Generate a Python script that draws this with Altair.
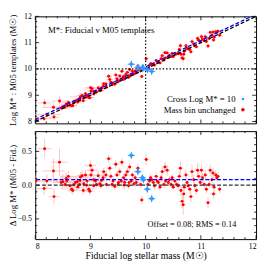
import altair as alt
import pandas as pd

# ---------------- data ----------------
fid_mass = [8.01, 8.17, 8.21, 8.16, 8.33, 8.44, 8.34, 8.47, 8.50, 8.54,
            8.57, 8.60, 8.63, 8.66, 8.68, 8.70, 8.73, 8.76, 8.80, 8.82,
            8.85, 8.88, 8.91, 8.94, 8.97, 9.00, 9.01, 9.03, 9.06, 9.09,
            8.99, 9.11, 9.14, 9.17, 9.20, 9.23, 9.24, 9.28, 9.29, 9.33,
            9.35, 9.37, 9.41, 9.44, 9.46, 9.48, 9.50, 9.53, 9.56, 9.57,
            9.60, 9.62, 9.64, 9.67, 9.69, 9.71, 9.74, 9.76, 9.79, 9.81,
            9.83, 9.86, 9.91, 9.93, 10.01, 10.04, 10.07, 10.09, 10.11, 10.14,
            10.16, 10.19, 10.21, 10.23, 10.26, 10.28, 10.30, 10.33, 10.35, 10.36,
            10.39, 10.41, 10.43, 10.46, 10.48, 10.50, 10.53, 10.56, 10.59, 10.61,
            10.63, 10.64, 10.66, 10.68, 10.69, 10.70, 10.73, 10.75, 10.77, 10.80,
            10.82, 10.84, 10.87, 10.89, 10.92, 10.94, 10.96, 10.99, 11.01, 11.03,
            11.06, 11.08, 11.10, 11.13, 11.15, 11.17, 11.20, 11.22, 11.24, 11.27,
            11.29, 11.31, 11.34, 11.23, 8.77, 8.87, 8.93, 9.06, 9.19, 9.39,
            9.51, 9.61, 9.70, 8.81, 8.56]
delta = [0.06, 0.54, 0.06, -0.05, 0.21, 0.34, -0.17, 0.04, 0.05, 0.01,
         0.06, 0.13, -0.01, -0.06, -0.08, 0.01, 0.04, 0.05, 0.01, 0.12,
         0.14, 0.02, 0.15, 0.06, -0.06, 0.29, 0.15, 0.22, 0.08, 0.06,
         -0.09, 0.01, 0.14, 0.02, 0.07, 0.11, 0.20, 0.15, 0.01, 0.39,
         0.25, 0.13, 0.06, -0.02, 0.31, 0.15, 0.01, 0.20, 0.06, 0.34,
         0.11, 0.04, 0.15, 0.20, -0.01, 0.27, 0.06, 0.15, 0.02, 0.11,
         0.04, 0.25, 0.01, -0.22, 0.38, 0.01, 0.06, 0.11, 0.08, 0.04,
         -0.01, 0.13, 0.06, 0.04, -0.03, 0.11, 0.20, 0.01, 0.27, 0.06,
         0.22, 0.04, 0.08, 0.01, 0.11, -0.03, 0.06, 0.01, -0.01, 0.13,
         0.25, -0.08, -0.24, -0.29, -0.13, -0.03, 0.15, 0.04, -0.01, -0.06,
         -0.17, 0.20, 0.08, -0.01, -0.08, 0.22, 0.13, 0.04, 0.22, 0.11,
         0.01, 0.15, -0.06, -0.26, 0.01, 0.22, 0.08, 0.18, -0.03, 0.15,
         0.11, 0.13, -0.06, -0.13, -0.03, -0.08, 0.00, -0.01, -0.01, 0.01,
         0.04, 0.00, 0.04, 0.07, 0.10]
err_fid = [0.10, 0.12, 0.25, 0.15, 0.20, 0.15, 0.10, 0.15, 0.12, 0.10,
           0.10, 0.15, 0.12, 0.10, 0.08, 0.10, 0.12, 0.10, 0.08, 0.20,
           0.10, 0.08, 0.12, 0.08, 0.08, 0.10, 0.08, 0.10, 0.08, 0.08,
           0.08, 0.06, 0.08, 0.06, 0.06, 0.08, 0.06, 0.06, 0.05, 0.06,
           0.06, 0.05, 0.06, 0.05, 0.06, 0.05, 0.05, 0.06, 0.05, 0.05,
           0.05, 0.05, 0.05, 0.05, 0.05, 0.05, 0.05, 0.05, 0.05, 0.05,
           0.05, 0.05, 0.04, 0.04, 0.05, 0.04, 0.04, 0.04, 0.04, 0.04,
           0.04, 0.05, 0.04, 0.04, 0.04, 0.04, 0.05, 0.04, 0.05, 0.04,
           0.05, 0.04, 0.04, 0.04, 0.04, 0.04, 0.04, 0.04, 0.04, 0.05,
           0.05, 0.04, 0.05, 0.05, 0.05, 0.04, 0.05, 0.04, 0.04, 0.04,
           0.05, 0.05, 0.04, 0.04, 0.04, 0.05, 0.05, 0.04, 0.05, 0.04,
           0.04, 0.05, 0.04, 0.05, 0.04, 0.05, 0.04, 0.05, 0.04, 0.05,
           0.04, 0.04, 0.04, 0.05, 0.08, 0.08, 0.08, 0.06, 0.06, 0.06,
           0.05, 0.05, 0.05, 0.08, 0.10]
err_delta = [0.08, 0.14, 0.10, 0.10, 0.18, 0.20, 0.12, 0.10, 0.12, 0.08,
             0.10, 0.08, 0.08, 0.06, 0.06, 0.06, 0.08, 0.06, 0.06, 0.08,
             0.08, 0.06, 0.08, 0.06, 0.06, 0.08, 0.06, 0.08, 0.06, 0.06,
             0.06, 0.05, 0.07, 0.05, 0.05, 0.06, 0.06, 0.06, 0.05, 0.06,
             0.06, 0.05, 0.05, 0.05, 0.06, 0.05, 0.05, 0.06, 0.05, 0.06,
             0.05, 0.05, 0.06, 0.05, 0.05, 0.06, 0.05, 0.05, 0.05, 0.05,
             0.05, 0.06, 0.05, 0.06, 0.08, 0.05, 0.06, 0.06, 0.05, 0.05,
             0.05, 0.06, 0.05, 0.05, 0.05, 0.06, 0.07, 0.05, 0.08, 0.05,
             0.08, 0.05, 0.06, 0.05, 0.06, 0.05, 0.06, 0.05, 0.06, 0.07,
             0.10, 0.08, 0.10, 0.15, 0.10, 0.06, 0.08, 0.06, 0.06, 0.06,
             0.08, 0.10, 0.07, 0.06, 0.06, 0.10, 0.08, 0.06, 0.10, 0.07,
             0.06, 0.08, 0.06, 0.08, 0.06, 0.08, 0.06, 0.08, 0.06, 0.07,
             0.06, 0.06, 0.06, 0.07, 0.06, 0.06, 0.05, 0.05, 0.05, 0.05,
             0.05, 0.05, 0.05, 0.06, 0.08]

cross_fid = [9.74, 9.86, 9.94, 9.96, 10.03, 10.11]
cross_delta = [0.44, 0.20, 0.11, 0.08, -0.06, -0.20]

offset = 0.08
line_x = [8.0, 12.0]

x_major = [8, 9, 10, 11, 12]
x_minor = [8.2, 8.4, 8.6, 8.8, 9.2, 9.4, 9.6, 9.8, 10.2, 10.4, 10.6, 10.8,
           11.2, 11.4, 11.6, 11.8]
top_y_major = [8, 9, 10, 11, 12]
top_y_minor = [8.2, 8.4, 8.6, 8.8, 9.2, 9.4, 9.6, 9.8, 10.2, 10.4, 10.6, 10.8,
               11.2, 11.4, 11.6, 11.8]
bot_y_major = [-0.5, 0.0, 0.5]
bot_y_minor = [-0.7, -0.6, -0.4, -0.3, -0.2, -0.1, 0.1, 0.2, 0.3, 0.4, 0.6, 0.7]

# ---------------- styling ----------------
W, H1, H2 = 227, 110, 111
FONT = "Liberation Serif"
RED = "#ff0000"
PINK = "#ffb4b4"
BLUE = "#3399ff"
STAR = "M0,-1L0.28,-0.28L1,0L0.28,0.28L0,1L-0.28,0.28L-1,0L-0.28,-0.28Z"

xs = alt.Scale(domain=[8, 12], nice=False, zero=False)
yt = alt.Scale(domain=[7.93, 12], nice=False, zero=False)
yb = alt.Scale(domain=[-0.8, 0.8], nice=False, zero=False)

ax_common = dict(ticks=False, domain=False, grid=False, labelFont=FONT, titleFont=FONT,
                 labelFontSize=8, titleFontSize=9, titleFontWeight="normal",
                 labelColor="black", titleColor="black", labelPadding=4)

AX_TOP_X = alt.Axis(values=x_major, labels=False, title=None, **ax_common)
AX_TOP_Y = alt.Axis(values=top_y_major, title="Log M* : M05 templates (M☉)",
                    titleX=-18, titleBaseline="bottom", format="d", **ax_common)
AX_BOT_X = alt.Axis(values=x_major, format="d", title="Fiducial log stellar mass  (M☉)",
                    titlePadding=0, **{**ax_common, "labelPadding": 4, "titleFontSize": 10})
AX_BOT_Y = alt.Axis(values=bot_y_major, format=".1f", title="Δ Log M* (M05 - Fid.)",
                    titleX=-18, titleBaseline="bottom", **ax_common)

df = pd.DataFrame({"fid": fid_mass, "d": delta, "ex": err_fid, "ey": err_delta})
df["m05"] = df["fid"] + df["d"]
df["x_lo"] = df["fid"] - df["ex"]
df["x_hi"] = df["fid"] + df["ex"]
df["y_lo"] = df["m05"] - df["ey"]
df["y_hi"] = df["m05"] + df["ey"]
df["d_lo"] = df["d"] - df["ey"]
df["d_hi"] = df["d"] + df["ey"]

cross = pd.DataFrame({"fid": cross_fid, "d": cross_delta})
cross["m05"] = cross["fid"] + cross["d"]

lines = pd.DataFrame({"x": line_x})
lines["one"] = lines["x"]
lines["off"] = lines["x"] + offset


def X(f, ax):
    return alt.X(f, scale=xs, axis=ax)


def edge_ticks(yscale, yax, xax, ymaj, ymin, H):
    layers = []
    for vals, L in [(x_major, 4), (x_minor, 2)]:
        d = pd.DataFrame({"t": vals})
        base = alt.Chart(d).mark_rule(color="black", strokeWidth=0.8)
        layers.append(base.encode(x=X("t:Q", xax), y=alt.value(H), y2=alt.value(H - L)))
        layers.append(base.encode(x=X("t:Q", xax), y=alt.value(0), y2=alt.value(L)))
    for vals, L in [(ymaj, 4), (ymin, 2)]:
        d = pd.DataFrame({"t": vals})
        base = alt.Chart(d).mark_rule(color="black", strokeWidth=0.8)
        layers.append(base.encode(y=alt.Y("t:Q", scale=yscale, axis=yax),
                                  x=alt.value(0), x2=alt.value(L)))
        layers.append(base.encode(y=alt.Y("t:Q", scale=yscale, axis=yax),
                                  x=alt.value(W), x2=alt.value(W - L)))
    return layers


def text(s, x, y, align="left", size=9):
    return alt.Chart(pd.DataFrame({"t": [s]})).mark_text(
        align=align, baseline="middle", font=FONT, fontSize=size, color="black"
    ).encode(text="t:N", x=alt.value(x), y=alt.value(y))


# ---------------- top panel ----------------
base_t = alt.Chart(df)
t_hbar = base_t.mark_rule(color=PINK, strokeWidth=0.8, clip=True).encode(
    x=X("x_lo:Q", AX_TOP_X), x2="x_hi", y=alt.Y("m05:Q", scale=yt, axis=AX_TOP_Y))
t_vbar = base_t.mark_rule(color=PINK, strokeWidth=0.8, clip=True).encode(
    x=X("fid:Q", AX_TOP_X), y=alt.Y("y_lo:Q", scale=yt, axis=AX_TOP_Y), y2="y_hi")
t_pts = base_t.mark_circle(color=RED, size=9, opacity=1, clip=True).encode(
    x=X("fid:Q", AX_TOP_X), y=alt.Y("m05:Q", scale=yt, axis=AX_TOP_Y))
t_one = alt.Chart(lines).mark_line(color="black", strokeDash=[4, 2], strokeWidth=1.3, clip=True).encode(
    x=X("x:Q", AX_TOP_X), y=alt.Y("one:Q", scale=yt, axis=AX_TOP_Y))
t_off = alt.Chart(lines).mark_line(color="#0000ff", strokeDash=[4, 2], strokeWidth=1.3, clip=True).encode(
    x=X("x:Q", AX_TOP_X), y=alt.Y("off:Q", scale=yt, axis=AX_TOP_Y))
t_vdot = alt.Chart(pd.DataFrame({"v": [10]})).mark_rule(
    color="black", strokeDash=[1.5, 2], strokeWidth=1.2).encode(x=X("v:Q", AX_TOP_X))
t_hdot = alt.Chart(pd.DataFrame({"v": [10]})).mark_rule(
    color="black", strokeDash=[1.5, 2], strokeWidth=1.2).encode(
    y=alt.Y("v:Q", scale=yt, axis=AX_TOP_Y))
t_star = alt.Chart(cross).mark_point(shape=STAR, filled=True, size=70, color=BLUE, opacity=1).encode(
    x=X("fid:Q", AX_TOP_X), y=alt.Y("m05:Q", scale=yt, axis=AX_TOP_Y))

leg_blue = alt.Chart(pd.DataFrame({"a": [1]})).mark_circle(color=BLUE, size=7, opacity=1).encode(
    x=alt.value(213.5), y=alt.value(85))
leg_red = alt.Chart(pd.DataFrame({"a": [1]})).mark_circle(color=RED, size=14, opacity=1).encode(
    x=alt.value(213.5), y=alt.value(96))

top = alt.layer(
    t_hbar, t_vbar, t_pts, t_one, t_off, t_vdot, t_hdot, t_star,
    *edge_ticks(yt, AX_TOP_Y, AX_TOP_X, top_y_major, top_y_minor, H1),
    text("M*: Fiducial v M05 templates", 13, 14),
    text("Cross Log M* = 10", 206, 85, align="right"),
    text("Mass bin unchanged", 206, 96, align="right"),
    leg_blue, leg_red,
).properties(width=W, height=H1)

# ---------------- bottom panel ----------------
base_b = alt.Chart(df)
b_hbar = base_b.mark_rule(color=PINK, strokeWidth=0.8, clip=True).encode(
    x=X("x_lo:Q", AX_BOT_X), x2="x_hi", y=alt.Y("d:Q", scale=yb, axis=AX_BOT_Y))
b_vbar = base_b.mark_rule(color=PINK, strokeWidth=0.8, clip=True).encode(
    x=X("fid:Q", AX_BOT_X), y=alt.Y("d_lo:Q", scale=yb, axis=AX_BOT_Y), y2="d_hi")
b_pts = base_b.mark_circle(color=RED, size=9, opacity=1, clip=True).encode(
    x=X("fid:Q", AX_BOT_X), y=alt.Y("d:Q", scale=yb, axis=AX_BOT_Y))
b_zero = alt.Chart(pd.DataFrame({"v": [0.0]})).mark_rule(
    color="#333333", strokeDash=[4, 2], strokeWidth=1.3).encode(
    y=alt.Y("v:Q", scale=yb, axis=AX_BOT_Y))
b_off = alt.Chart(pd.DataFrame({"v": [offset]})).mark_rule(
    color="#0000ff", strokeDash=[4, 2], strokeWidth=1.3).encode(
    y=alt.Y("v:Q", scale=yb, axis=AX_BOT_Y))
b_star = alt.Chart(cross).mark_point(shape=STAR, filled=True, size=70, color=BLUE, opacity=1).encode(
    x=X("fid:Q", AX_BOT_X), y=alt.Y("d:Q", scale=yb, axis=AX_BOT_Y))

bottom = alt.layer(
    b_hbar, b_vbar, b_pts, b_zero, b_off, b_star,
    *edge_ticks(yb, AX_BOT_Y, AX_BOT_X, bot_y_major, bot_y_minor, H2),
    text("Offset = 0.08; RMS = 0.14", 115.5, 96, size=8.5),
).properties(width=W, height=H2)

chart = alt.vconcat(top, bottom, spacing=4).properties(
    padding={"left": 0, "top": 0, "right": 0, "bottom": 0},
    background="white",
).configure_view(stroke="black", strokeWidth=1)

chart.save("out.html", embed_options={"renderer": "svg", "actions": False})
